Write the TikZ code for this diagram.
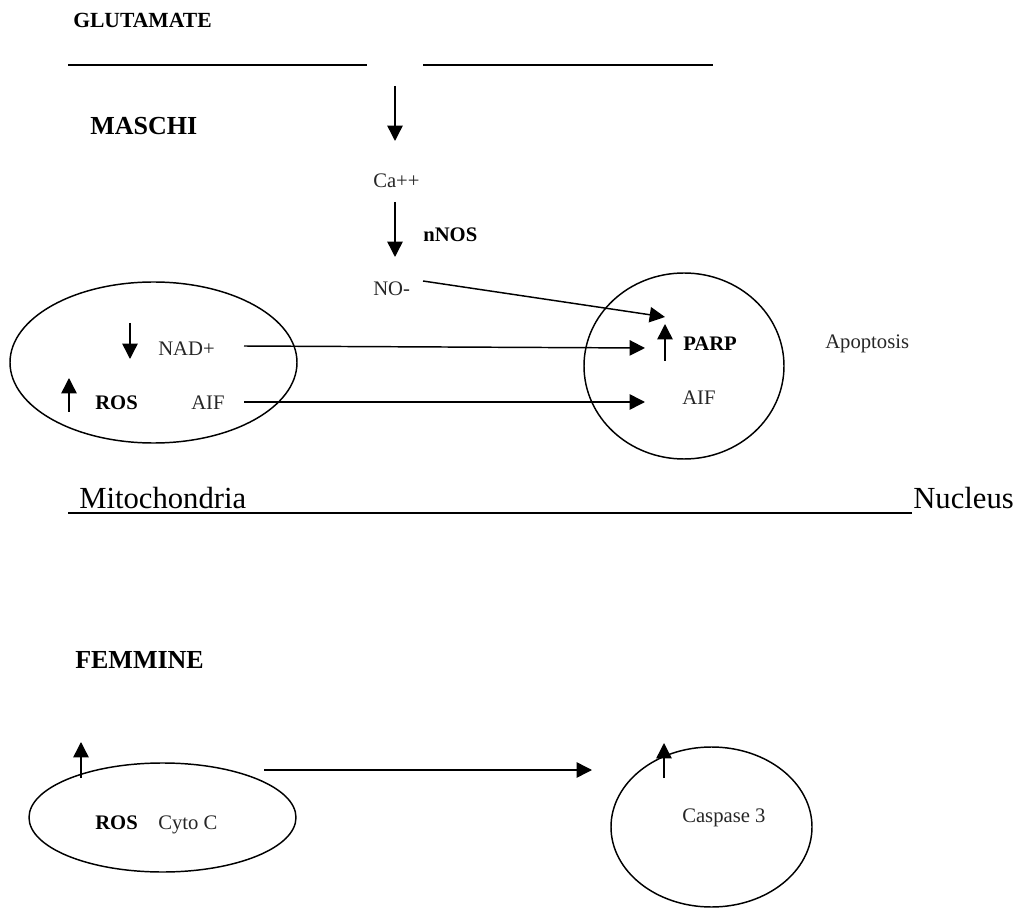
\documentclass[tikz,border=0pt]{standalone}
\usepackage{fontspec}
\setmainfont{Liberation Serif}
\usetikzlibrary{arrows.meta,shapes.geometric}
\tikzset{
  lbl/.style={anchor=base west,inner sep=0pt,font=\fontsize{15.5}{18}\selectfont,text=black!85},
  blbl/.style={anchor=base west,inner sep=0pt,font=\fontsize{15.5}{18}\selectfont\bfseries},
  head/.style={anchor=base west,inner sep=0pt,font=\fontsize{19.5}{22}\selectfont\bfseries},
  big/.style={anchor=base west,inner sep=0pt,font=\fontsize{23}{26}\selectfont},
  arr/.style={-{Triangle[length=11.5pt,width=11.5pt]},line width=1.1pt},
  sline/.style={line width=1.1pt},
  oval/.style={draw,ellipse,line width=1.1pt,inner sep=0pt}
}
\begin{document}
\begin{tikzpicture}[x=0.75pt,y=-0.75pt]
\useasboundingbox (0,0) rectangle (1018,909);
% top section
\node[blbl,font=\fontsize{16.2}{18}\selectfont\bfseries] (glu) at (73,28) {GLUTAMATE};
\coordinate (m1a) at (68,65); \coordinate (m1b) at (367,65);
\coordinate (m2a) at (423,65); \coordinate (m2b) at (713,65);
\draw[sline] (m1a) -- (m1b);
\draw[sline] (m2a) -- (m2b);
\node[head] (maschi) at (90,135) {MASCHI};
\coordinate (a1s) at (395,86); \coordinate (a1e) at (395,141);
\draw[arr] (a1s) -- (a1e);
\node[lbl] (ca) at (373,188) {Ca++};
\coordinate (a2s) at (395,202); \coordinate (a2e) at (395,257);
\draw[arr] (a2s) -- (a2e);
\node[blbl] (nnos) at (423,242) {nNOS};
\node[lbl] (no) at (373,296) {NO-};
% mitochondria ellipse
\node[oval,minimum width=287*0.75pt,minimum height=161*0.75pt] (mito) at (153.5,362.5) {};
\coordinate (d1s) at (130,323); \coordinate (d1e) at (130,359);
\draw[arr] (d1s) -- (d1e);
\node[lbl] (nad) at (158,356) {NAD+};
\coordinate (u1s) at (69,412); \coordinate (u1e) at (69,378);
\draw[arr] (u1s) -- (u1e);
\node[blbl] (ros) at (95,410) {ROS};
\node[lbl] (aifl) at (191,410) {AIF};
% nucleus circle
\node[oval,minimum width=200*0.75pt,minimum height=186*0.75pt] (nuc) at (684,366) {};
\coordinate (u2s) at (665,361); \coordinate (u2e) at (665,324);
\draw[arr] (u2s) -- (u2e);
\node[blbl] (parp) at (683,351) {PARP};
\node[lbl] (aifr) at (682,404) {AIF};
\node[lbl] (apo) at (825,349) {Apoptosis};
% connectors
\coordinate (nos) at (423,281); \coordinate (note) at (665,317);
\draw[arr] (nos) -- (note);
\coordinate (nads) at (244,346); \coordinate (nade) at (645,348);
\draw[arr] (nads) -- (nade);
\coordinate (aifs) at (244,402); \coordinate (aife) at (645,402);
\draw[arr] (aifs) -- (aife);
% baseline
\coordinate (b1) at (68,513); \coordinate (b2) at (912,513);
\draw[sline] (b1) -- (b2);
\node[big] (mitol) at (79,508) {Mitochondria};
\node[big] (nucl) at (913,508) {Nucleus};
% bottom section
\node[head] (femm) at (75,668) {FEMMINE};
\node[oval,minimum width=267*0.75pt,minimum height=109*0.75pt] (mito2) at (162.5,817.5) {};
\coordinate (u3s) at (81,778); \coordinate (u3e) at (81,742);
\draw[arr] (u3s) -- (u3e);
\node[blbl] (ros2) at (95,829) {ROS};
\node[lbl] (cyto) at (158,829) {Cyto C};
\node[oval,minimum width=201*0.75pt,minimum height=160*0.75pt] (nuc2) at (711.5,827) {};
\coordinate (u4s) at (664,778); \coordinate (u4e) at (664,743);
\draw[arr] (u4s) -- (u4e);
\node[lbl] (casp) at (682,822) {Caspase 3};
\coordinate (hs) at (264,770); \coordinate (he) at (592,770);
\draw[arr] (hs) -- (he);
\end{tikzpicture}
\end{document}
